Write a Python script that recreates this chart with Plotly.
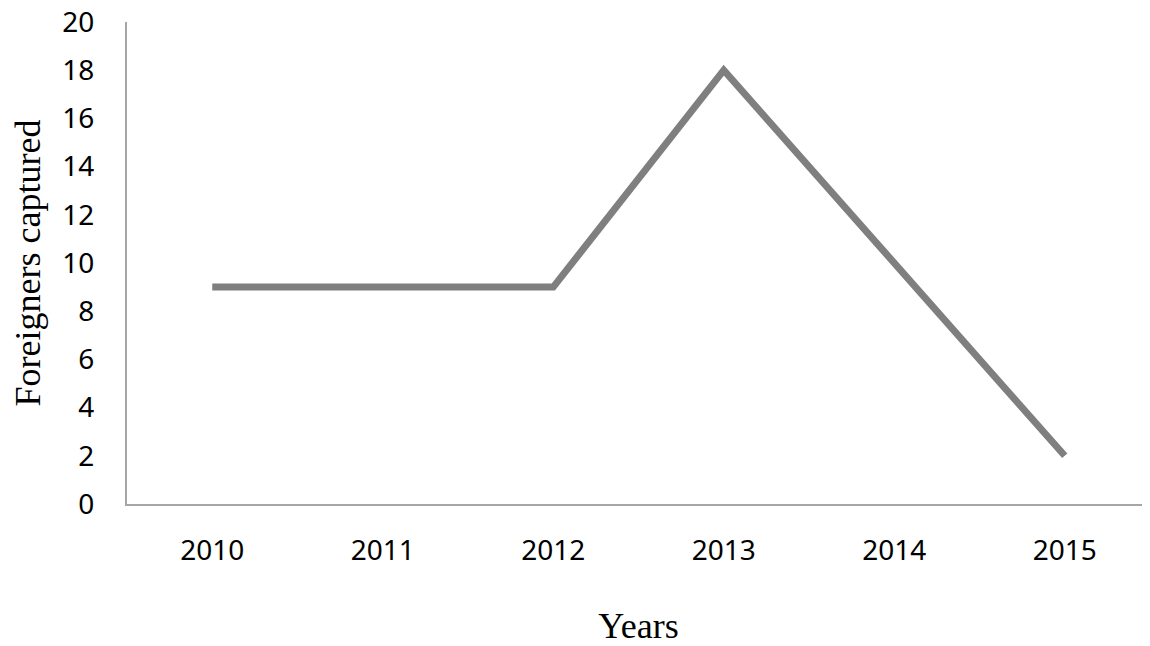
import plotly.graph_objects as go

years = ["2010", "2011", "2012", "2013", "2014", "2015"]
captured = [9, 9, 9, 18, 10, 2]
y_ticks = list(range(0, 21, 2))

fig = go.Figure(
    go.Scatter(
        x=years,
        y=captured,
        mode="lines",
        line=dict(color="#7f7f7f", width=7),
        hoverinfo="skip",
    )
)

tick_font = dict(family="Noto Sans", size=28, color="#000000")
title_font = dict(family="Liberation Serif", size=36, color="#000000")

# the page body adds an 8px margin, so the plot margins are shifted to compensate
fig.update_layout(
    width=1150,
    height=646,
    margin=dict(l=119, r=8, t=14, b=150),
    plot_bgcolor="white",
    paper_bgcolor="white",
    showlegend=False,
    xaxis=dict(
        type="category",
        range=[-0.5, 5.5],
        automargin=False,
        showgrid=False,
        showline=True,
        linecolor="#a6a6a6",
        linewidth=2,
        ticks="",
        tickfont=tick_font,
        ticklabelstandoff=20,
        ticklabeloverflow="allow",
        title=dict(text="Years", font=title_font, standoff=46),
        zeroline=False,
    ),
    yaxis=dict(
        range=[0, 20],
        tickvals=y_ticks,
        automargin=False,
        showgrid=False,
        showline=True,
        linecolor="#a6a6a6",
        linewidth=2,
        ticks="",
        tickfont=tick_font,
        ticklabelstandoff=25,
        ticklabeloverflow="allow",
        title=dict(text="Foreigners captured", font=title_font, standoff=36),
        zeroline=False,
    ),
)

fig.write_html("out.html")
